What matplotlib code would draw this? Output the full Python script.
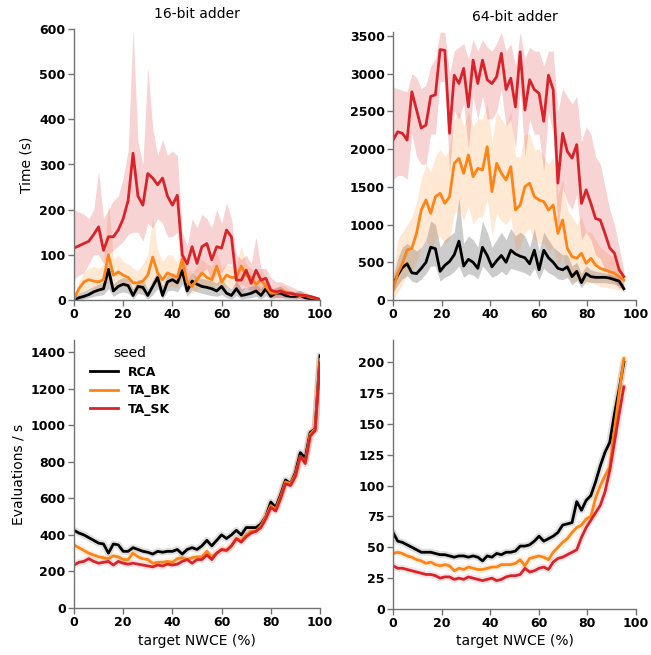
import numpy as np
import matplotlib
matplotlib.use('Agg')
import matplotlib.pyplot as plt

# Data
seeds = ['RCA', 'TA_BK', 'TA_SK']
colors = ['#000000', '#ff8416', '#d8232a']

# 16-bit adder, time (s)
x16 = np.arange(0, 101, 2)
t16_rca = [0, 5, 8, 12, 18, 22, 25, 68, 20, 30, 35, 32, 10, 30, 28, 10, 30, 50, 10, 40,
           45, 38, 65, 20, 42, 35, 30, 28, 25, 20, 30, 15, 10, 25, 10, 12, 15, 20, 10, 25,
           8, 15, 15, 10, 8, 8, 10, 5, 3, 2, 1]
t16_rca_lo = [0, 0, 2, 5, 8, 10, 12, 25, 8, 15, 18, 15, 2, 15, 12, 2, 12, 25, 2, 20,
              22, 18, 35, 8, 22, 18, 15, 12, 10, 8, 12, 5, 2, 10, 2, 4, 5, 8, 2, 10,
              2, 5, 5, 3, 2, 2, 3, 1, 0, 0, 0]
t16_rca_hi = [5, 15, 20, 25, 30, 35, 40, 85, 35, 45, 50, 48, 25, 45, 45, 25, 45, 65, 30, 55,
              60, 55, 80, 40, 60, 50, 48, 45, 42, 38, 48, 32, 25, 42, 25, 28, 30, 35, 25, 40,
              20, 28, 30, 22, 20, 18, 22, 12, 8, 5, 3]
t16_bk = [2, 25, 40, 45, 42, 40, 45, 100, 55, 62, 55, 50, 38, 38, 42, 55, 95, 60, 45, 60,
          55, 50, 90, 40, 30, 45, 60, 50, 45, 75, 40, 55, 50, 50, 75, 55, 50, 35, 45, 30,
          15, 15, 20, 18, 12, 12, 10, 10, 6, 4, 2]
t16_bk_lo = [0, 10, 20, 25, 25, 22, 25, 40, 30, 35, 30, 28, 20, 20, 22, 30, 40, 30, 25, 30,
             30, 28, 50, 20, 15, 22, 30, 28, 25, 35, 20, 30, 28, 25, 35, 30, 28, 18, 22, 15,
             8, 8, 10, 8, 6, 6, 5, 5, 3, 2, 1]
t16_bk_hi = [10, 40, 60, 70, 75, 70, 80, 220, 90, 100, 85, 80, 70, 65, 80, 100, 185, 110, 85, 100,
             100, 80, 120, 70, 60, 75, 90, 80, 75, 110, 70, 80, 75, 80, 120, 80, 70, 60, 70, 50,
             30, 25, 35, 30, 20, 20, 18, 15, 10, 6, 3]
t16_sk = [115, 120, 125, 130, 145, 162, 110, 140, 140, 155, 180, 220, 325, 230, 210, 280, 270, 255, 270, 230,
          210, 232, 100, 80, 118, 81, 118, 125, 89, 118, 115, 155, 140, 44, 44, 66, 37, 66, 44, 48,
          22, 18, 20, 15, 15, 12, 11, 10, 8, 5, 1]
t16_sk_lo = [45, 55, 60, 80, 100, 100, 80, 100, 110, 120, 130, 145, 150, 150, 130, 170, 160, 180, 170, 140,
             140, 150, 50, 30, 60, 40, 60, 70, 40, 60, 60, 80, 80, 20, 15, 30, 15, 20, 20, 20,
             8, 5, 5, 5, 5, 3, 3, 3, 2, 1, 0]
t16_sk_hi = [200, 195, 190, 180, 200, 285, 180, 200, 220, 230, 270, 330, 600, 350, 300, 515, 380, 320, 355, 320,
             330, 320, 150, 120, 180, 160, 190, 180, 160, 200, 170, 215, 180, 100, 90, 100, 80, 140, 70, 70,
             50, 40, 40, 35, 30, 25, 20, 18, 12, 8, 3]

# 64-bit adder, time (s)
x64 = np.linspace(0, 95, 50)
t64_rca = [200, 330, 430, 480, 360, 350, 420, 500, 700, 680, 380, 460, 510, 600, 780, 450, 540, 500, 420, 700,
           590, 440, 520, 590, 500, 660, 610, 580, 560, 480, 660, 400, 660, 560, 500, 420, 400, 440, 310, 380,
           230, 350, 310, 300, 300, 300, 290, 270, 250, 150]
t64_rca_lo = [100, 200, 280, 320, 250, 230, 280, 350, 450, 450, 250, 300, 330, 380, 450, 300, 350, 330, 280, 450,
              380, 300, 330, 380, 330, 420, 400, 380, 360, 320, 420, 270, 420, 360, 330, 280, 270, 300, 200, 260,
              160, 250, 230, 230, 230, 230, 220, 210, 190, 100]
t64_rca_hi = [300, 550, 700, 750, 700, 650, 700, 800, 1050, 1000, 700, 800, 850, 900, 1350, 750, 850, 800, 700, 1050,
              900, 700, 800, 900, 800, 950, 850, 900, 850, 700, 950, 650, 900, 800, 700, 650, 600, 600, 450, 500,
              350, 450, 400, 380, 370, 360, 340, 320, 290, 200]
t64_bk = [133, 354, 486, 663, 685, 884, 1193, 1326, 1149, 1370, 1414, 1282, 1370, 1812, 1878, 1680, 1923, 1635, 1746, 1724,
          2033, 1437, 1812, 1680, 1591, 1768, 1193, 1260, 1503, 1547, 1370, 1326, 1304, 1193, 1260, 884, 1061, 685, 575, 553,
          619, 486, 553, 464, 420, 398, 376, 354, 309, 265]
t64_bk_lo = [20, 100, 200, 350, 400, 500, 700, 800, 650, 800, 850, 750, 800, 1150, 1200, 1050, 1250, 1000, 1100, 1100,
             1350, 850, 1150, 1050, 1000, 1100, 650, 700, 900, 950, 800, 750, 750, 650, 700, 450, 600, 300, 250, 250,
             300, 200, 250, 200, 180, 170, 160, 150, 130, 120]
t64_bk_hi = [300, 800, 900, 1000, 1100, 1300, 1600, 1800, 1700, 1900, 2000, 1900, 2000, 2400, 2500, 2300, 2500, 2300, 2400, 2400,
             2600, 2100, 2500, 2400, 2300, 2500, 1900, 1900, 2200, 2200, 2000, 2000, 1900, 1800, 1900, 1400, 1600, 1200, 1100, 1000,
             1100, 900, 900, 800, 700, 650, 600, 550, 450, 350]
t64_sk = [2120, 2230, 2210, 2120, 2760, 2520, 2280, 2320, 2700, 2720, 3320, 3310, 2210, 2980, 2870, 3070, 2560, 3180, 2870, 3180,
          2920, 2870, 2960, 3270, 2790, 2940, 2560, 3290, 2520, 2920, 2790, 2740, 2370, 2980, 2790, 1550, 2210, 1970, 1880, 2060,
          1280, 1460, 1280, 1080, 1060, 880, 690, 620, 400, 310]
t64_sk_lo = [1600, 1650, 1650, 1600, 2200, 1900, 1800, 1800, 2200, 2200, 2900, 2900, 1700, 2500, 2400, 2600, 2000, 2700, 2400, 2700,
             2400, 2400, 2500, 2800, 2300, 2400, 2000, 2800, 1900, 2400, 2200, 2200, 1700, 2500, 2200, 900, 1500, 1300, 1200, 1400,
             800, 900, 800, 600, 550, 400, 300, 250, 150, 200]
t64_sk_hi = [2830, 2800, 2780, 2760, 3000, 2950, 2800, 2850, 3100, 3200, 3550, 3550, 3000, 3300, 3350, 3400, 3200, 3450, 3300, 3450,
             3350, 3300, 3400, 3550, 3300, 3400, 3100, 3550, 3200, 3350, 3300, 3300, 3100, 3300, 3300, 2500, 2800, 2700, 2600, 2700,
             2100, 2300, 2200, 1900, 1800, 1500, 1200, 1000, 700, 400]

# 16-bit adder, evaluations / s
e16_rca = [425, 410, 400, 385, 370, 355, 350, 300, 350, 345, 310, 310, 330, 320, 310, 305, 295, 310, 305, 310,
           310, 320, 295, 320, 330, 320, 340, 370, 340, 370, 400, 380, 400, 425, 400, 440, 440, 440, 460, 500,
           580, 550, 620, 700, 680, 740, 850, 820, 960, 980, 1380]
e16_bk = [345, 330, 315, 300, 290, 280, 275, 270, 285, 280, 265, 265, 300, 280, 270, 265, 245, 250, 250, 255,
          250, 270, 275, 265, 275, 280, 280, 310, 280, 300, 320, 315, 340, 380, 370, 400, 420, 420, 450, 500,
          560, 540, 610, 690, 680, 730, 830, 800, 950, 980, 1360]
e16_sk = [235, 250, 255, 270, 255, 245, 250, 255, 235, 255, 245, 240, 245, 240, 235, 230, 225, 235, 230, 240,
          235, 240, 255, 265, 245, 265, 265, 290, 265, 300, 320, 315, 340, 380, 360, 390, 410, 420, 440, 490,
          550, 530, 600, 680, 670, 720, 830, 790, 940, 970, 1340]

# 64-bit adder, evaluations / s
e64_rca = [62, 55, 54, 52, 50, 48, 46, 46, 46, 45, 44, 44, 43, 42, 43, 43, 42, 43, 42, 39,
           43, 42, 45, 44, 46, 46, 47, 51, 51, 52, 55, 59, 55, 57, 59, 62, 68, 69, 70, 87,
           80, 88, 92, 103, 116, 127, 135, 158, 178, 200]
e64_bk = [45, 46, 45, 43, 42, 40, 39, 37, 38, 36, 35, 36, 35, 31, 33, 32, 34, 33, 32, 32,
          33, 34, 34, 36, 36, 36, 37, 40, 35, 41, 42, 43, 42, 40, 46, 50, 54, 57, 62, 66,
          68, 73, 75, 90, 100, 108, 115, 145, 175, 203]
e64_sk = [35, 33, 33, 32, 31, 30, 29, 28, 28, 27, 25, 26, 26, 24, 25, 24, 26, 25, 24, 23,
          24, 25, 23, 24, 26, 27, 27, 28, 33, 30, 31, 33, 34, 32, 38, 41, 42, 44, 46, 48,
          58, 66, 72, 78, 84, 95, 112, 135, 158, 180]

plt.rcParams['font.family'] = ['DejaVu Sans']
fig = plt.figure(figsize=(6.51, 6.55), dpi=100)
W, H = 651.0, 655.0


def make_axes(x0, x1, ybot, ytop):
    return fig.add_axes([x0 / W, 1 - ybot / H, (x1 - x0) / W, (ybot - ytop) / H])


ax_tl = make_axes(74, 320, 300, 29)
ax_tr = make_axes(393, 636, 300, 32)
ax_bl = make_axes(74, 320, 608, 340)
ax_br = make_axes(393, 636, 609, 340)

top_data = [
    (ax_tl, x16, [(t16_rca, t16_rca_lo, t16_rca_hi), (t16_bk, t16_bk_lo, t16_bk_hi), (t16_sk, t16_sk_lo, t16_sk_hi)]),
    (ax_tr, x64, [(t64_rca, t64_rca_lo, t64_rca_hi), (t64_bk, t64_bk_lo, t64_bk_hi), (t64_sk, t64_sk_lo, t64_sk_hi)]),
]
band_alpha = [0.2, 0.18, 0.2]
for ax, xs, series in top_data:
    for (y, lo, hi), c, a in zip(series, colors, band_alpha):
        ax.fill_between(xs, lo, hi, color=c, alpha=a, linewidth=0)
    for (y, lo, hi), c in zip(series, colors):
        ax.plot(xs, y, color=c, linewidth=2)

bottom_data = [
    (ax_bl, x16, [e16_rca, e16_bk, e16_sk]),
    (ax_br, x64, [e64_rca, e64_bk, e64_sk]),
]
for ax, xs, series in bottom_data:
    # soft halo around each curve, like the blurred CI in the reference
    for y, c in zip(series, colors):
        ax.plot(xs, y, color=c, linewidth=5, alpha=0.12, solid_capstyle='round')
    for y, c, name in zip(series, colors, seeds):
        ax.plot(xs, y, color=c, linewidth=2, label=name)

ax_tl.set_ylim(0, 600)
ax_tl.set_yticks(np.arange(0, 601, 100))
ax_tr.set_ylim(0, 3553)
ax_tr.set_yticks(np.arange(0, 3501, 500))
ax_bl.set_ylim(0, 1466)
ax_bl.set_yticks(np.arange(0, 1401, 200))
ax_br.set_ylim(0, 218)
ax_br.set_yticks(np.arange(0, 201, 25))

for ax in [ax_tl, ax_tr, ax_bl, ax_br]:
    ax.set_xlim(0, 100)
    ax.set_xticks(np.arange(0, 101, 20))
    ax.spines['top'].set_visible(False)
    ax.spines['right'].set_visible(False)
    for s in ['left', 'bottom']:
        ax.spines[s].set_color('0.45')
        ax.spines[s].set_linewidth(1.0)
    ax.tick_params(direction='out', length=4, width=1, color='0.45', labelsize=9, pad=2)
    for lab in ax.get_xticklabels() + ax.get_yticklabels():
        lab.set_fontweight('bold')

ax_tl.set_title('16-bit adder', fontsize=10, pad=8)
ax_tr.set_title('64-bit adder', fontsize=10, pad=8)
ax_tl.set_ylabel('Time (s)', fontsize=10)
ax_bl.set_ylabel('Evaluations / s', fontsize=10)
ax_bl.set_xlabel('target NWCE (%)', fontsize=10, labelpad=3)
ax_br.set_xlabel('target NWCE (%)', fontsize=10, labelpad=3)

leg = ax_bl.legend(title='seed', loc='upper left', bbox_to_anchor=(0.02, 1.02), frameon=False,
                   fontsize=9, title_fontsize=10, handlelength=2.2, labelspacing=0.45)
for t in leg.get_texts():
    t.set_fontweight('bold')

fig.savefig('out.png', dpi=100)
